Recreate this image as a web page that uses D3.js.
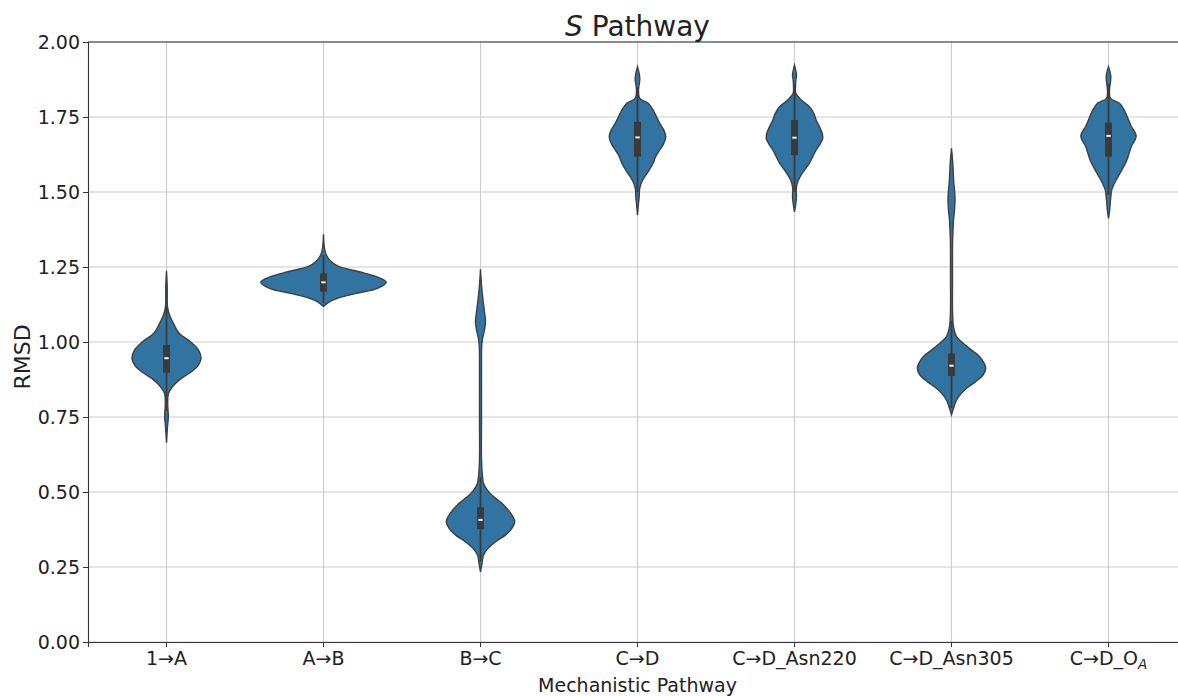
<!DOCTYPE html>
<html>
<head>
<meta charset="utf-8">
<script src="https://cdn.jsdelivr.net/npm/d3@7"></script>
<style>
  body { margin: 0; background: #fff; }
  svg text { font-family: "DejaVu Sans", sans-serif; fill: #222; }
</style>
</head>
<body>
<div id="chart"></div>
<script>
// Categories along the x axis
const categories = ["1→A", "A→B", "B→C", "C→D", "C→D_Asn220", "C→D_Asn305", "C→D_OA"];

// Density outlines: [RMSD, relative density] (1 = widest violin)
const density1A = [[0.664,0],[0.718,0.016],[0.751,0.029],[0.796,0.019],[0.829,0.032],[0.851,0.095],[0.873,0.2],[0.896,0.36],[0.918,0.49],[0.946,0.55],[0.973,0.51],[1.001,0.38],[1.029,0.2],[1.062,0.11],[1.09,0.048],[1.118,0.016],[1.18,0.012],[1.237,0]];
const densityAB = [[1.118,0],[1.132,0.08],[1.146,0.23],[1.162,0.52],[1.179,0.86],[1.199,1.0],[1.218,0.84],[1.234,0.57],[1.251,0.25],[1.268,0.12],[1.29,0.045],[1.312,0.016],[1.359,0]];
const densityBC = [[0.234,0],[0.262,0.024],[0.29,0.048],[0.312,0.12],[0.334,0.24],[0.357,0.4],[0.379,0.5],[0.401,0.545],[0.418,0.515],[0.44,0.44],[0.462,0.345],[0.484,0.21],[0.507,0.105],[0.529,0.048],[0.551,0.032],[0.6,0.017],[0.75,0.016],[0.9,0.016],[0.984,0.019],[1.01,0.032],[1.04,0.064],[1.068,0.08],[1.1,0.064],[1.14,0.04],[1.19,0.016],[1.242,0]];
const densityCD = [[1.423,0],[1.462,0.016],[1.484,0.027],[1.507,0.032],[1.529,0.059],[1.551,0.116],[1.573,0.186],[1.596,0.249],[1.618,0.29],[1.64,0.354],[1.662,0.418],[1.684,0.45],[1.707,0.418],[1.729,0.354],[1.751,0.302],[1.773,0.249],[1.796,0.17],[1.812,0.037],[1.84,0.016],[1.879,0.037],[1.918,0]];
const densityAsn220 = [[1.434,0],[1.462,0.021],[1.484,0.032],[1.507,0.027],[1.529,0.043],[1.551,0.09],[1.573,0.159],[1.596,0.238],[1.618,0.29],[1.64,0.345],[1.662,0.413],[1.679,0.45],[1.696,0.44],[1.718,0.397],[1.74,0.345],[1.762,0.306],[1.784,0.238],[1.807,0.106],[1.829,0.021],[1.851,0.016],[1.873,0.021],[1.89,0.032],[1.923,0]];
const densityAsn305 = [[0.757,0],[0.779,0.032],[0.801,0.068],[0.823,0.132],[0.846,0.24],[0.868,0.386],[0.89,0.503],[0.912,0.545],[0.929,0.52],[0.951,0.45],[0.973,0.318],[0.996,0.186],[1.018,0.08],[1.051,0.032],[1.1,0.017],[1.2,0.016],[1.329,0.017],[1.373,0.024],[1.407,0.032],[1.44,0.048],[1.473,0.056],[1.496,0.052],[1.529,0.037],[1.6,0.019],[1.646,0]];
const densityOA = [[1.412,0],[1.44,0.019],[1.462,0.027],[1.484,0.037],[1.507,0.052],[1.54,0.122],[1.573,0.211],[1.605,0.29],[1.63,0.33],[1.65,0.36],[1.687,0.44],[1.72,0.36],[1.75,0.3],[1.773,0.25],[1.796,0.175],[1.812,0.032],[1.84,0.016],[1.884,0.037],[1.918,0]];
const densities = [density1A, densityAB, densityBC, densityCD, densityAsn220, densityAsn305, densityOA];

// Box summary per category
const q1Values = [0.898, 1.168, 0.376, 1.618, 1.623, 0.887, 1.618];
const medianValues = [0.946, 1.199, 0.407, 1.682, 1.681, 0.921, 1.687];
const q3Values = [0.990, 1.229, 0.449, 1.734, 1.740, 0.962, 1.731];
const whiskerLow = [0.77, 1.13, 0.27, 1.50, 1.50, 0.78, 1.49];
const whiskerHigh = [1.12, 1.29, 0.55, 1.85, 1.86, 1.07, 1.86];

const yTicks = [0, 0.25, 0.5, 0.75, 1.0, 1.25, 1.5, 1.75, 2.0];

const W = 1178, H = 696;
const margin = {left: 88, top: 42, bottom: 54};
const plotW = 1099, plotH = H - margin.top - margin.bottom;

const svg = d3.select("#chart").append("svg")
    .attr("width", W)
    .attr("height", H);

const x = d3.scaleBand().domain(categories).range([margin.left, margin.left + plotW]).padding(0);
const y = d3.scaleLinear().domain([0, 2]).range([margin.top + plotH, margin.top]);
const w = d3.scaleLinear().domain([0, 1]).range([0, x.bandwidth() * 0.4]);

// grid
svg.append("g")
    .selectAll("line.hgrid")
    .data(yTicks)
    .enter().append("line")
        .attr("x1", margin.left).attr("x2", margin.left + plotW)
        .attr("y1", d => y(d)).attr("y2", d => y(d))
        .style("stroke", "#cbcbcb").style("stroke-width", 1.1);

svg.append("g")
    .selectAll("line.vgrid")
    .data(categories)
    .enter().append("line")
        .attr("x1", d => x(d) + x.bandwidth() / 2).attr("x2", d => x(d) + x.bandwidth() / 2)
        .attr("y1", margin.top).attr("y2", margin.top + plotH)
        .style("stroke", "#cbcbcb").style("stroke-width", 1.1);

// violins
const area = d3.area()
    .curve(d3.curveCatmullRom)
    .y(d => y(d[0]));

categories.forEach((c, i) => {
    const cx = x(c) + x.bandwidth() / 2;
    const g = svg.append("g");
    g.append("path")
        .datum(densities[i])
        .attr("d", area.x0(d => cx - w(d[1])).x1(d => cx + w(d[1])))
        .style("fill", "#3274a1")
        .style("stroke", "#3f3f3f")
        .style("stroke-width", 1.4);

    // whisker
    g.append("line")
        .attr("x1", cx).attr("x2", cx)
        .attr("y1", y(whiskerLow[i])).attr("y2", y(whiskerHigh[i]))
        .style("stroke", "#3a3a3a").style("stroke-width", 1.8);
    // box
    g.append("rect")
        .attr("x", cx - 3.5).attr("width", 7)
        .attr("y", y(q3Values[i])).attr("height", y(q1Values[i]) - y(q3Values[i]))
        .style("fill", "#3a3a3a");
    // median
    g.append("rect")
        .attr("x", cx - 2.2).attr("width", 4.4)
        .attr("y", y(medianValues[i]) - 1).attr("height", 2)
        .style("fill", "#f2f2f2");
});

// top spine
svg.append("line")
    .attr("x1", margin.left).attr("x2", margin.left + plotW)
    .attr("y1", margin.top).attr("y2", margin.top)
    .style("stroke", "#333").style("stroke-width", 1.1);

// axes
const yAxis = svg.append("g")
    .attr("transform", `translate(${margin.left},0)`)
    .call(d3.axisLeft(y).tickValues(yTicks).tickFormat(d3.format(".2f")).tickSize(5).tickPadding(3));
yAxis.select(".domain").style("stroke", "#333").style("stroke-width", 1.1);
yAxis.selectAll(".tick line").style("stroke", "#333");
yAxis.selectAll("text").style("font-size", "19px").style("fill", "#222");

const xAxis = svg.append("g")
    .attr("transform", `translate(0,${margin.top + plotH})`)
    .call(d3.axisBottom(x).tickSize(5).tickPadding(5).tickFormat(d => d === "C→D_OA" ? "" : d));
xAxis.select(".domain").style("stroke", "#333").style("stroke-width", 1.1);
xAxis.selectAll(".tick line").style("stroke", "#333");
xAxis.selectAll("text").style("font-size", "19px").style("fill", "#222");

// subscript label for the last category
const lastTick = xAxis.selectAll(".tick").filter(d => d === "C→D_OA").select("text");
lastTick.append("tspan").text("C→D_O");
lastTick.append("tspan").text("A")
    .style("font-style", "italic")
    .style("font-size", "13.5px")
    .attr("dy", "4");

// titles
svg.append("text")
    .attr("x", margin.left + plotW / 2)
    .attr("y", 36)
    .attr("text-anchor", "middle")
    .style("font-size", "28px")
    .call(t => {
        t.append("tspan").text("S").style("font-style", "italic");
        t.append("tspan").text(" Pathway");
    });

svg.append("text")
    .attr("transform", `translate(30,${margin.top + plotH / 2 + 15}) rotate(-90)`)
    .attr("text-anchor", "middle")
    .style("font-size", "22px")
    .text("RMSD");

svg.append("text")
    .attr("x", margin.left + plotW / 2)
    .attr("y", 692)
    .attr("text-anchor", "middle")
    .style("font-size", "19px")
    .text("Mechanistic Pathway");
</script>
</body>
</html>
